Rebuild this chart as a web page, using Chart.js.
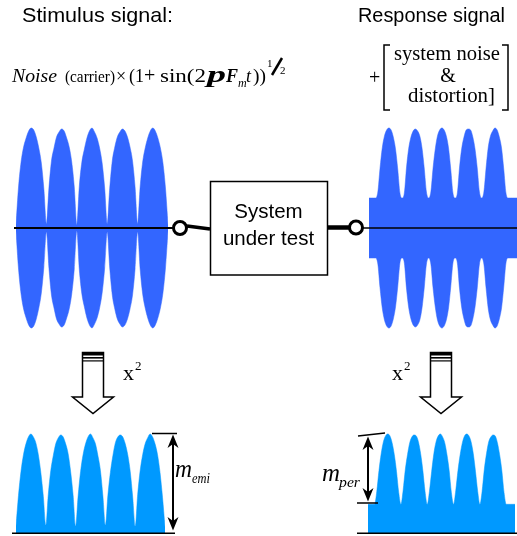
<!DOCTYPE html>
<html>
<head>
<meta charset="utf-8">
<script src="https://cdn.jsdelivr.net/npm/chart.js"></script>
<style>
  body { margin: 0; background: #fff; }
  #page { position: relative; width: 517px; height: 536px; overflow: hidden; }
  #page canvas { position: absolute; }
  #overlay { position: absolute; left: 0; top: 0; }
</style>
</head>
<body>
<div id="page">
  <canvas id="stimulusChart" width="152" height="204" style="left:16px;top:126px;width:152px;height:204px"></canvas>
  <canvas id="responseChart" width="148" height="204" style="left:369px;top:126px;width:148px;height:204px"></canvas>
  <canvas id="stimulusSqChart" width="149" height="102" style="left:16px;top:431px;width:149px;height:102px"></canvas>
  <canvas id="responseSqChart" width="147" height="102" style="left:368px;top:431px;width:147px;height:102px"></canvas>

  <svg id="overlay" width="517" height="536" xmlns="http://www.w3.org/2000/svg">
    <!-- signal path and system box -->
    <g stroke="#000" fill="none">
      <line x1="14" y1="228" x2="174" y2="228" stroke-width="2"/>
      <line x1="187" y1="226" x2="210" y2="229" stroke-width="3.5"/>
      <circle cx="180" cy="228" r="6.5" stroke-width="3" fill="#fff"/>
      <rect x="210.5" y="181.5" width="117" height="93.5" stroke-width="1.5" fill="#fff"/>
      <line x1="328" y1="227.5" x2="350" y2="227.5" stroke-width="4.5"/>
      <line x1="363" y1="228" x2="517" y2="228" stroke-width="1.5"/>
      <circle cx="356" cy="227.5" r="6.5" stroke-width="3" fill="#fff"/>
    </g>

    <!-- titles and box label -->
    <g font-family="Liberation Sans, Arial, sans-serif" fill="#000">
      <text x="22" y="21.5" font-size="21" textLength="151" lengthAdjust="spacingAndGlyphs">Stimulus signal:</text>
      <text x="358" y="21.5" font-size="20" textLength="147" lengthAdjust="spacingAndGlyphs">Response signal</text>
      <text x="268.5" y="218" font-size="20.5" text-anchor="middle">System</text>
      <text x="268.5" y="245" font-size="20.5" text-anchor="middle">under test</text>
    </g>

    <!-- modulation formula -->
    <g font-family="Liberation Serif, Times New Roman, serif" fill="#000">
      <text x="12" y="82" font-size="19" font-style="italic" textLength="45" lengthAdjust="spacingAndGlyphs">Noise</text>
      <text x="65" y="82" font-size="16" textLength="50" lengthAdjust="spacingAndGlyphs">(carrier)</text>
      <text x="116" y="82" font-size="18">×</text>
      <text x="129" y="82" font-size="18">(1</text>
      <text x="144" y="82" font-size="20">+</text>
      <text x="160" y="82" font-size="19" textLength="46" lengthAdjust="spacingAndGlyphs">sin(2</text>
      <text x="207" y="82" font-size="23" font-weight="bold" font-style="italic" textLength="19" lengthAdjust="spacingAndGlyphs">p</text>
      <text x="226" y="82" font-size="18" font-weight="bold" font-style="italic">F</text>
      <text x="238" y="87" font-size="12" font-style="italic">m</text>
      <text x="246" y="82" font-size="18" font-style="italic">t</text>
      <text x="253" y="82" font-size="18" textLength="13" lengthAdjust="spacingAndGlyphs">))</text>
      <text x="267" y="67" font-size="11">1</text>
      <line x1="272" y1="75" x2="282" y2="58" stroke="#000" stroke-width="2.5"/>
      <text x="280" y="74" font-size="11">2</text>
    </g>

    <!-- system noise & distortion -->
    <g font-family="Liberation Serif, Times New Roman, serif" font-size="20" fill="#000">
      <text x="369" y="84">+</text>
      <path d="M390,45 H384 V110 H390" fill="none" stroke="#000" stroke-width="1.5"/>
      <path d="M502,45 H508 V110 H502" fill="none" stroke="#000" stroke-width="1.5"/>
      <text x="447" y="60" text-anchor="middle" textLength="106" lengthAdjust="spacingAndGlyphs">system noise</text>
      <text x="448" y="82" text-anchor="middle">&amp;</text>
      <text x="408" y="102" textLength="87" lengthAdjust="spacingAndGlyphs">distortion]</text>
    </g>

    <!-- squaring block arrows -->
    <g stroke="#000" stroke-width="1.5" fill="#fff">
      <path d="M82.5,352.5 V397 H72.5 L93,413.5 L113.5,397 H103.5 V352.5 Z"/>
      <path d="M430.5,352.5 V397 H420.5 L441,413.5 L461.5,397 H451.5 V352.5 Z"/>
    </g>
    <g fill="#000">
      <rect x="82" y="352" width="22" height="3.5"/>
      <rect x="82" y="357" width="22" height="1.6"/>
      <rect x="82" y="360.3" width="22" height="1.2"/>
      <rect x="430" y="352" width="22" height="3.5"/>
      <rect x="430" y="357" width="22" height="1.6"/>
      <rect x="430" y="360.3" width="22" height="1.2"/>
    </g>
    <g font-family="Liberation Serif, Times New Roman, serif" fill="#000">
      <text x="123" y="380" font-size="22">x</text>
      <text x="135" y="370" font-size="13">2</text>
      <text x="392" y="380" font-size="22">x</text>
      <text x="404" y="370" font-size="13">2</text>
    </g>

    <!-- baselines and modulation depth arrows -->
    <g stroke="#000" fill="none">
      <line x1="12" y1="533.3" x2="175" y2="533.3" stroke-width="1.6"/>
      <line x1="357" y1="533.3" x2="517" y2="533.3" stroke-width="1.6"/>
      <line x1="152" y1="433.5" x2="177" y2="433.5" stroke-width="1.5"/>
      <line x1="173" y1="442" x2="173" y2="522" stroke-width="2"/>
      <line x1="358" y1="436" x2="385" y2="433" stroke-width="1.5"/>
      <line x1="357" y1="503" x2="378" y2="503" stroke-width="1.5"/>
      <line x1="368" y1="444" x2="368" y2="494" stroke-width="2"/>
    </g>
    <g fill="#000">
      <path d="M173,434.5 L178.5,448 L173,444 L167.5,448 Z"/>
      <path d="M173,530.5 L178.5,517 L173,521 L167.5,517 Z"/>
      <path d="M368,436.5 L373.5,450 L368,446 L362.5,450 Z"/>
      <path d="M368,501.5 L373.5,488 L368,492 L362.5,488 Z"/>
    </g>
    <g font-family="Liberation Serif, Times New Roman, serif" font-style="italic" fill="#000">
      <text x="175" y="477" font-size="26" textLength="17" lengthAdjust="spacingAndGlyphs">m</text>
      <text x="192" y="483" font-size="15" textLength="18" lengthAdjust="spacingAndGlyphs">emi</text>
      <text x="322" y="481" font-size="26" textLength="18" lengthAdjust="spacingAndGlyphs">m</text>
      <text x="339" y="487" font-size="15" textLength="21" lengthAdjust="spacingAndGlyphs">per</text>
    </g>
  </svg>
</div>

<script>
// Envelope of the stimulus: noise carrier modulated over 5 periods (upper half, 1 = peak)
const stimulusEnvelope = [
  0.03, 0.41, 0.66, 0.81, 0.90, 0.97, 1.00, 0.98, 0.91, 0.80, 0.65, 0.39,
  0.04, 0.40, 0.67, 0.80, 0.91, 0.96, 0.99, 0.97, 0.90, 0.81, 0.66, 0.41,
  0.03, 0.42, 0.66, 0.79, 0.90, 0.97, 1.00, 0.96, 0.90, 0.80, 0.65, 0.40,
  0.04, 0.40, 0.67, 0.81, 0.91, 0.96, 0.99, 0.97, 0.91, 0.81, 0.67, 0.41,
  0.04, 0.41, 0.66, 0.80, 0.90, 0.97, 1.00, 0.97, 0.90, 0.80, 0.65, 0.40, 0.03
];

// Envelope of the response: same modulation sitting on a system noise floor
const responseEnvelope = [
  0.30, 0.30, 0.30,
  0.30, 0.36, 0.60, 0.80, 0.92, 0.98, 1.00, 0.98, 0.91, 0.79, 0.59, 0.35,
  0.30, 0.35, 0.61, 0.80, 0.91, 0.97, 0.99, 0.97, 0.92, 0.80, 0.60, 0.36,
  0.30, 0.36, 0.60, 0.79, 0.92, 0.98, 1.00, 0.98, 0.92, 0.80, 0.59, 0.35,
  0.30, 0.35, 0.61, 0.80, 0.91, 0.98, 0.99, 0.98, 0.91, 0.79, 0.60, 0.36,
  0.30, 0.36, 0.60, 0.81, 0.92, 0.97, 1.00, 0.98, 0.91, 0.80, 0.59, 0.35,
  0.30, 0.30, 0.30, 0.30, 0.30
];

// Squared stimulus (x^2), one sided
const stimulusSquared = [
  0.07, 0.38, 0.62, 0.79, 0.90, 0.97, 1.00, 0.97, 0.91, 0.79, 0.61, 0.37,
  0.08, 0.39, 0.63, 0.78, 0.90, 0.96, 0.99, 0.97, 0.90, 0.80, 0.62, 0.38,
  0.07, 0.37, 0.62, 0.79, 0.90, 0.97, 1.00, 0.96, 0.90, 0.78, 0.63, 0.37,
  0.08, 0.38, 0.61, 0.78, 0.91, 0.97, 0.99, 0.97, 0.90, 0.79, 0.62, 0.36,
  0.07, 0.39, 0.63, 0.79, 0.90, 0.96, 1.00, 0.97, 0.90, 0.79, 0.61, 0.36, 0.06
];

// Squared response (x^2), lobes on top of the noise floor
const responseSquared = [
  0.29, 0.29, 0.29,
  0.29, 0.42, 0.63, 0.80, 0.92, 0.98, 1.00, 0.98, 0.91, 0.79, 0.62, 0.41,
  0.29, 0.43, 0.64, 0.79, 0.91, 0.97, 0.99, 0.98, 0.92, 0.80, 0.63, 0.42,
  0.29, 0.42, 0.62, 0.80, 0.92, 0.98, 1.00, 0.97, 0.91, 0.79, 0.63, 0.41,
  0.29, 0.43, 0.63, 0.79, 0.91, 0.98, 1.00, 0.98, 0.92, 0.80, 0.62, 0.42,
  0.29, 0.42, 0.64, 0.80, 0.92, 0.97, 0.99, 0.98, 0.91, 0.79, 0.63, 0.41,
  0.29, 0.29, 0.29, 0.29, 0.29
];

const topColor = '#3366ff';
const bottomColor = '#0099ff';

// Function to draw one waveform as a filled envelope
function generateWaveChart(elementId, upper, lower, color, yMin, yMax) {
  var ctx = document.getElementById(elementId).getContext('2d');
  const labels = upper.map((v, i) => i);
  const datasets = [{
    data: upper,
    fill: lower ? '+1' : 'origin',
    backgroundColor: color,
    borderColor: color,
    borderWidth: 0.5,
    pointRadius: 0,
    cubicInterpolationMode: 'monotone'
  }];
  if (lower) {
    datasets.push({
      data: lower,
      fill: false,
      borderColor: color,
      borderWidth: 0.5,
      pointRadius: 0,
      cubicInterpolationMode: 'monotone'
    });
  }
  new Chart(ctx, {
    type: 'line',
    data: { labels: labels, datasets: datasets },
    options: {
      responsive: false,
      animation: false,
      events: [],
      layout: { padding: 0 },
      plugins: { legend: { display: false }, tooltip: { enabled: false } },
      scales: {
        x: { display: false, offset: false },
        y: { display: false, min: yMin, max: yMax }
      }
    }
  });
}

generateWaveChart('stimulusChart', stimulusEnvelope, stimulusEnvelope.map(v => -v), topColor, -1.02, 1.02);
generateWaveChart('responseChart', responseEnvelope, responseEnvelope.map(v => -v), topColor, -1.02, 1.02);
generateWaveChart('stimulusSqChart', stimulusSquared, null, bottomColor, 0, 1.03);
generateWaveChart('responseSqChart', responseSquared, null, bottomColor, 0, 1.03);
</script>
</body>
</html>
